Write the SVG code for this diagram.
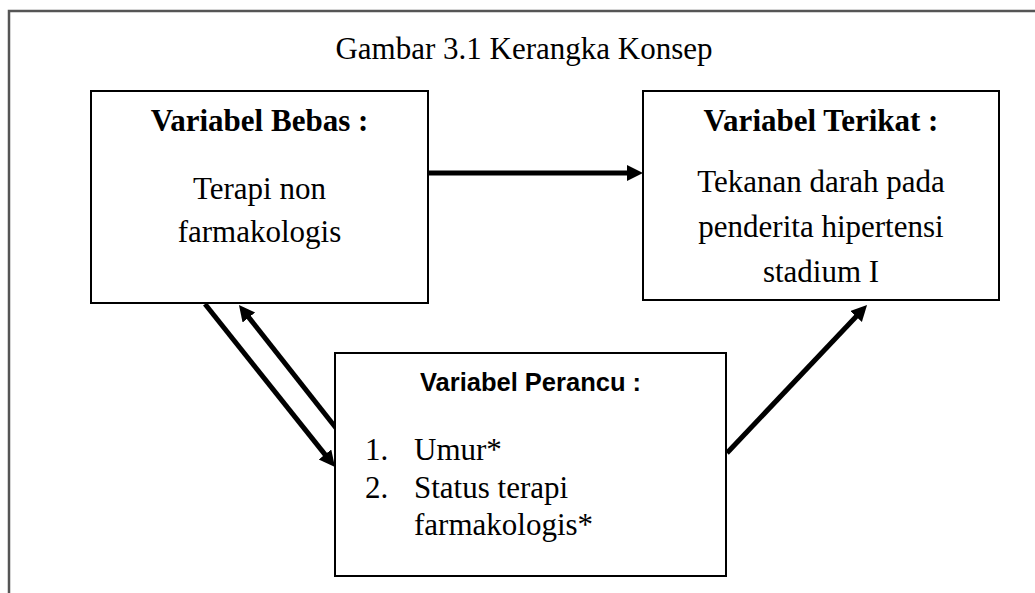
<svg xmlns="http://www.w3.org/2000/svg" width="1035" height="593" viewBox="0 0 1035 593">
  <style>
    .box { fill: #ffffff; stroke: #000000; stroke-width: 2; }
    .frame { fill: none; stroke: #555555; stroke-width: 2.5; }
    .serif { font-family: "Liberation Serif", "Times New Roman", serif; font-size: 31px; fill: #000000; }
    .bold { font-weight: bold; }
    .sans { font-family: "Liberation Sans", Arial, sans-serif; font-size: 25.5px; font-weight: bold; fill: #000000; }
    .conn { stroke: #000000; stroke-width: 5; fill: none; marker-end: url(#arrow); }
    .plain { stroke: #000000; stroke-width: 5; fill: none; }
  </style>
  <defs>
    <marker id="arrow" markerUnits="userSpaceOnUse" markerWidth="17" markerHeight="17" refX="4" refY="8" orient="auto" viewBox="0 0 17 17">
      <path d="M0,0 L16,8 L0,16 z" fill="#000000"/>
    </marker>
  </defs>

  <rect width="1035" height="593" fill="#ffffff"/>
  <path class="frame" d="M9,593 V11 H1035"/>
  <text class="serif" x="524" y="59" text-anchor="middle">Gambar 3.1 Kerangka Konsep</text>

  <g id="connectors">
    <line class="conn" x1="428" y1="173" x2="631" y2="173"/>
    <line class="conn" x1="336" y1="428" x2="246.4" y2="314.4"/>
    <line class="conn" x1="205" y1="304" x2="327.5" y2="457.6"/>
    <line class="conn" x1="727" y1="453" x2="858.8" y2="313.7"/>
  </g>

  <g id="node-bebas">
    <rect class="box" x="91" y="91" width="337" height="212"/>
    <text class="serif bold" x="259.5" y="131" text-anchor="middle">Variabel Bebas :</text>
    <text class="serif" x="259.5" y="199" text-anchor="middle">Terapi non</text>
    <text class="serif" x="259.5" y="242" text-anchor="middle">farmakologis</text>
  </g>

  <g id="node-terikat">
    <rect class="box" x="643" y="91" width="356" height="209"/>
    <text class="serif bold" x="821" y="131" text-anchor="middle">Variabel Terikat :</text>
    <text class="serif" x="821" y="192" text-anchor="middle">Tekanan darah pada</text>
    <text class="serif" x="821" y="237" text-anchor="middle">penderita hipertensi</text>
    <text class="serif" x="821" y="282" text-anchor="middle">stadium I</text>
  </g>

  <g id="node-perancu">
    <rect class="box" x="335" y="353" width="391" height="223"/>
    <text class="sans" x="530.5" y="391" text-anchor="middle">Variabel Perancu :</text>
    <text class="serif" x="365" y="460">1.</text>
    <text class="serif" x="414" y="460">Umur*</text>
    <text class="serif" x="365" y="498">2.</text>
    <text class="serif" x="414" y="498">Status terapi</text>
    <text class="serif" x="414" y="535">farmakologis*</text>
  </g>
</svg>
